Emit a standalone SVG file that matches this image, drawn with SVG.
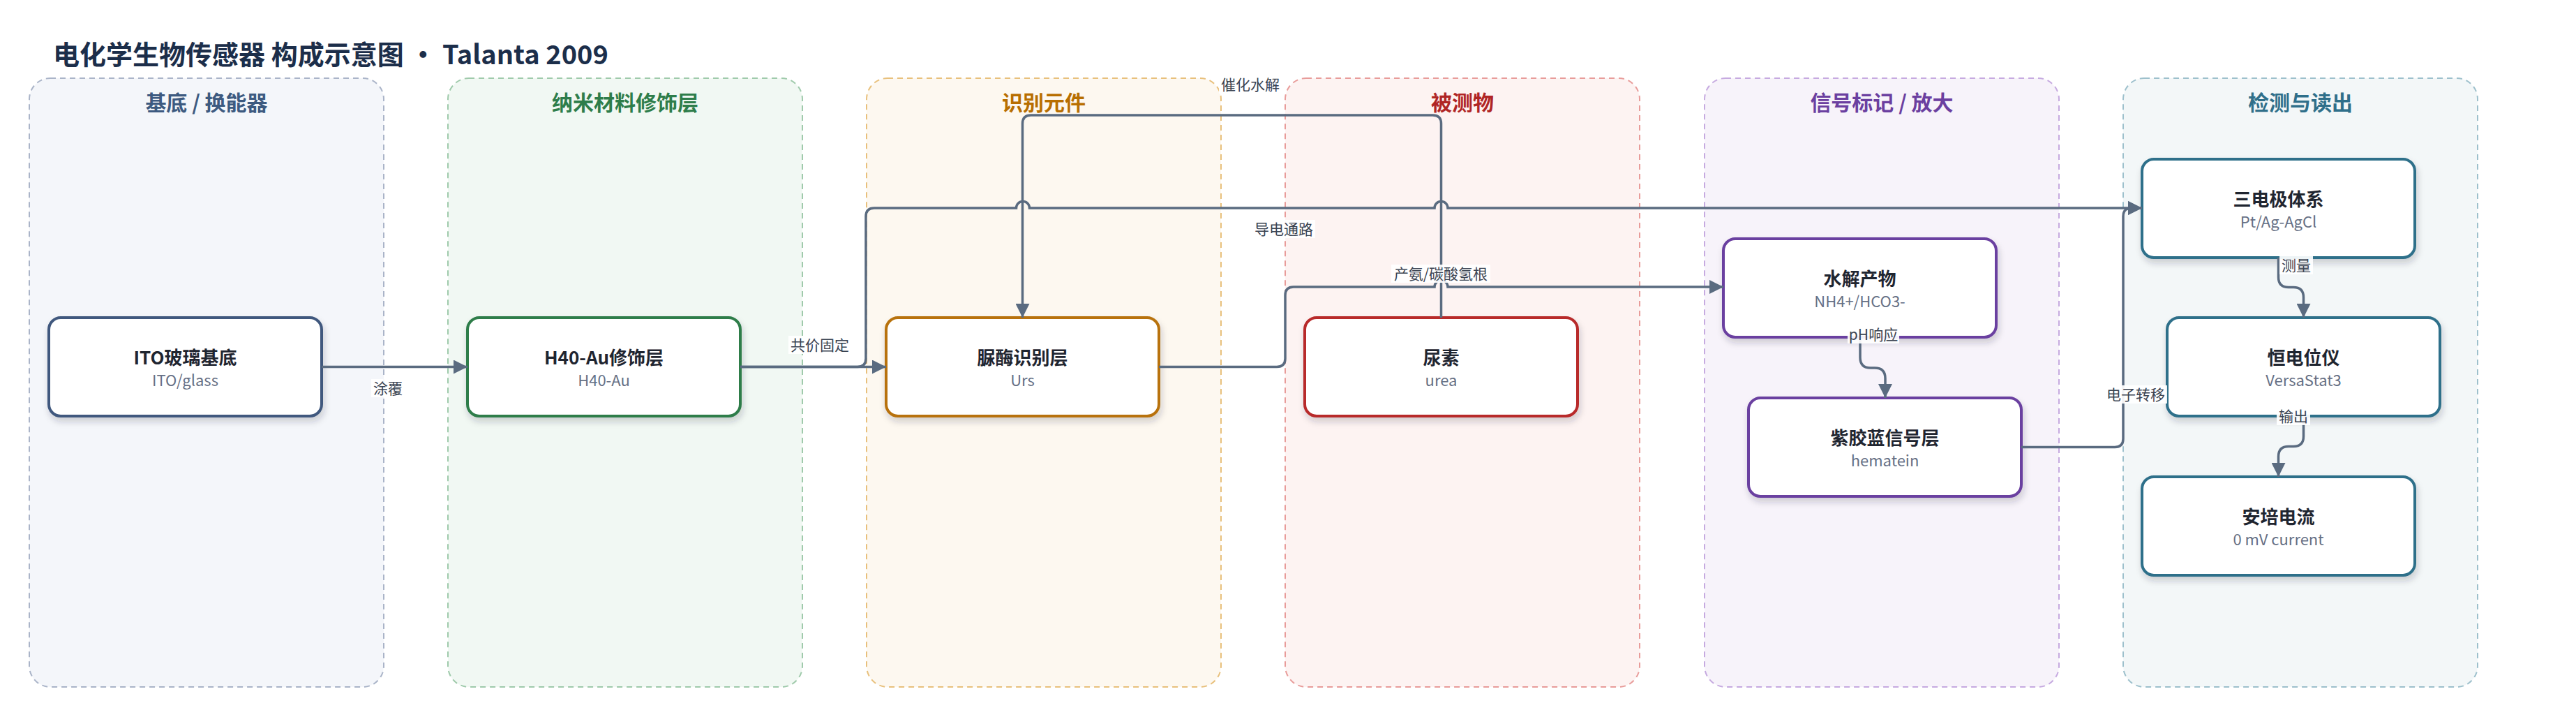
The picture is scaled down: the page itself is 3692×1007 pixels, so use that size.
<svg xmlns="http://www.w3.org/2000/svg" width="3692" height="1007" viewBox="0 0 3692 1007">
<defs>
<style>
text{font-family:"Noto Sans CJK SC","Noto Sans",sans-serif}
.title{font-size:38px;font-weight:700;fill:#1c2e4a}
.lane{stroke-width:2;stroke-dasharray:8 6}
.lanelbl{font-size:30px;font-weight:700;text-anchor:middle}
.node{fill:#fff;stroke-width:4;filter:url(#sh)}
.nt{font-size:26px;font-weight:700;fill:#1f2530;text-anchor:middle}
.ns{font-size:22px;fill:#667085;text-anchor:middle}
.edge{fill:none;stroke:#5a6b80;stroke-width:3.5}
.arr{marker-end:url(#ah)}
.lbg{fill:#fff;opacity:.92}
.el{font-size:21px;fill:#3b4452;text-anchor:middle}
</style>
<marker id="ah" viewBox="0 0 10 10" refX="10" refY="5" markerWidth="20" markerHeight="20" markerUnits="userSpaceOnUse" orient="auto">
<path d="M0,0 L10,5 L0,10 z" fill="#5a6b80"/>
</marker>
<filter id="sh" x="-10%" y="-10%" width="120%" height="130%">
<feDropShadow dx="2" dy="6" stdDeviation="5" flood-color="#1f2937" flood-opacity="0.2"/>
</filter>
</defs>
<rect width="3692" height="1007" fill="#fff"/>
<text class="title" x="76" y="92">电化学生物传感器 构成示意图 · Talanta 2009</text>

<g id="lanes">
<g id="lane-substrate"><rect class="lane" x="42" y="112" width="508" height="872" rx="30" fill="#f4f6fa" stroke="#aab4c8"/><text class="lanelbl" x="296" y="158" fill="#3d5a80">基底 / 换能器</text></g>
<g id="lane-nano"><rect class="lane" x="642" y="112" width="508" height="872" rx="30" fill="#f1f8f3" stroke="#9fcaab"/><text class="lanelbl" x="896" y="158" fill="#2e7d4a">纳米材料修饰层</text></g>
<g id="lane-recog"><rect class="lane" x="1242" y="112" width="508" height="872" rx="30" fill="#fdf8f0" stroke="#e8c07c"/><text class="lanelbl" x="1496" y="158" fill="#b86e00">识别元件</text></g>
<g id="lane-analyte"><rect class="lane" x="1842" y="112" width="508" height="872" rx="30" fill="#fdf3f2" stroke="#e89c9a"/><text class="lanelbl" x="2096" y="158" fill="#b02525">被测物</text></g>
<g id="lane-signal"><rect class="lane" x="2443" y="112" width="508" height="872" rx="30" fill="#f7f3fa" stroke="#c6aae0"/><text class="lanelbl" x="2697" y="158" fill="#6b3fa0">信号标记 / 放大</text></g>
<g id="lane-detect"><rect class="lane" x="3043" y="112" width="508" height="872" rx="30" fill="#f3f7f8" stroke="#9dc0cc"/><text class="lanelbl" x="3297" y="158" fill="#2f6f8a">检测与读出</text></g>
</g>

<g id="nodes">
<g id="ito"><rect class="node" x="70" y="455" width="391" height="141" rx="17" stroke="#41597e"/><text class="nt" x="265.5" y="522">ITO玻璃基底</text><text class="ns" x="265.5" y="553">ITO/glass</text></g>
<g id="h40au"><rect class="node" x="670" y="455" width="391" height="141" rx="17" stroke="#2e7d4a"/><text class="nt" x="865.5" y="522">H40-Au修饰层</text><text class="ns" x="865.5" y="553">H40-Au</text></g>
<g id="urs"><rect class="node" x="1270" y="455" width="391" height="141" rx="17" stroke="#b8720a"/><text class="nt" x="1465.5" y="522">脲酶识别层</text><text class="ns" x="1465.5" y="553">Urs</text></g>
<g id="urea"><rect class="node" x="1870" y="455" width="391" height="141" rx="17" stroke="#b82a2a"/><text class="nt" x="2065.5" y="522">尿素</text><text class="ns" x="2065.5" y="553">urea</text></g>
<g id="products"><rect class="node" x="2470" y="342" width="391" height="141" rx="17" stroke="#6b3fa0"/><text class="nt" x="2665.5" y="409">水解产物</text><text class="ns" x="2665.5" y="440">NH4+/HCO3-</text></g>
<g id="hematein"><rect class="node" x="2506" y="570" width="391" height="141" rx="17" stroke="#6b3fa0"/><text class="nt" x="2701.5" y="637">紫胶蓝信号层</text><text class="ns" x="2701.5" y="668">hematein</text></g>
<g id="electrodes"><rect class="node" x="3070" y="228" width="391" height="141" rx="17" stroke="#2f6f8a"/><text class="nt" x="3265.5" y="295">三电极体系</text><text class="ns" x="3265.5" y="326">Pt/Ag-AgCl</text></g>
<g id="potentiostat"><rect class="node" x="3106" y="455" width="391" height="141" rx="17" stroke="#2f6f8a"/><text class="nt" x="3301.5" y="522">恒电位仪</text><text class="ns" x="3301.5" y="553">VersaStat3</text></g>
<g id="current"><rect class="node" x="3070" y="683" width="391" height="141" rx="17" stroke="#2f6f8a"/><text class="nt" x="3265.5" y="750">安培电流</text><text class="ns" x="3265.5" y="781">0 mV current</text></g>
</g>

<g id="connectors">
<path class="edge arr" d="M461,525.5 H670"/>
<path class="edge arr" d="M1061,525.5 H1270"/>
<path class="edge arr" d="M1061,525.5 H1229 Q1241,525.5 1241,513.5 V310 Q1241,298 1253,298 H1456.5 A9.5,9.5 0 0 1 1475.5,298 H2056 A9.5,9.5 0 0 1 2075,298 H3070"/>
<path class="edge arr" d="M2065.5,455 V177 Q2065.5,165 2053.5,165 H1477.5 Q1465.5,165 1465.5,177 V455"/>
<path class="edge arr" d="M1661,525.5 H1830 Q1842,525.5 1842,513.5 V423 Q1842,411 1854,411 H2056 A9.5,9.5 0 0 1 2075,411 H2470"/>
<path class="edge arr" d="M2666,483 V512 Q2666,527 2681,527 H2687 Q2702,527 2702,542 V570"/>
<path class="edge arr" d="M2897,640.5 H3031 Q3043,640.5 3043,628.5 V310 Q3043,298 3055,298 H3070"/>
<path class="edge arr" d="M3265.5,369 V397 Q3265.5,411.5 3280,411.5 H3287 Q3301.5,411.5 3301.5,426 V455"/>
<path class="edge arr" d="M3301.5,596 V625 Q3301.5,639.5 3287,639.5 H3280 Q3265.5,639.5 3265.5,654 V683"/>

<g id="edge-labels">
<rect class="lbg" x="532" y="543" width="48" height="26"/><text class="el" x="556" y="563.5">涂覆</text>
<rect class="lbg" x="1130" y="481" width="90" height="26"/><text class="el" x="1175" y="501.5">共价固定</text>
<rect class="lbg" x="1747" y="108" width="90" height="26"/><text class="el" x="1792" y="128.5">催化水解</text>
<rect class="lbg" x="1795" y="315" width="90" height="26"/><text class="el" x="1840" y="335.5">导电通路</text>
<rect class="lbg" x="1994" y="379" width="142" height="26"/><text class="el" x="2065" y="399.5">产氨/碳酸氢根</text>
<rect class="lbg" x="2648" y="466" width="74" height="26"/><text class="el" x="2685" y="486.5">pH响应</text>
<rect class="lbg" x="3267" y="367" width="48" height="26"/><text class="el" x="3291" y="387.5">测量</text>
<rect class="lbg" x="3016" y="552" width="90" height="26"/><text class="el" x="3061" y="572.5">电子转移</text>
<rect class="lbg" x="3263" y="583" width="48" height="26"/><text class="el" x="3287" y="603.5">输出</text>
</g>
</g>
</svg>
